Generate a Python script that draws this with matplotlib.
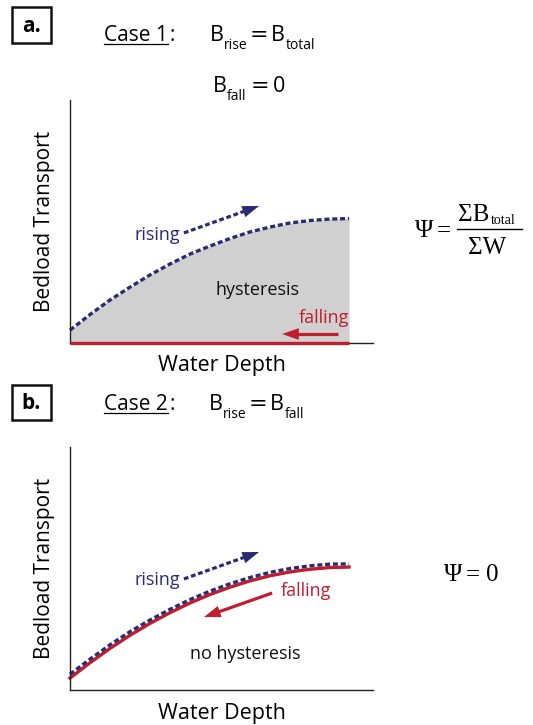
import matplotlib
matplotlib.use("Agg")
import matplotlib.pyplot as plt
from matplotlib.patches import Rectangle
from matplotlib.lines import Line2D

W, H = 533, 725
plt.rcParams['font.family'] = ['Open Sans', 'DejaVu Sans']
plt.rcParams['mathtext.default'] = 'regular'

NAVY = '#2b2a72'
RED = '#be1e2d'
GREY = '#d0d0d0'
SERIF = ['Liberation Serif', 'DejaVu Serif']

# curve data (water depth vs bedload transport)
depth = [0, 0.66, 1.32, 1.98, 2.64, 3.30, 3.96, 4.62, 5.28, 5.94, 6.60, 7.26, 7.92, 8.58, 9.21]
rise_a = [0.53, 1.17, 1.77, 2.30, 2.80, 3.25, 3.66, 3.99, 4.30, 4.57, 4.77, 4.94, 5.04, 5.10, 5.12]
fall_a = [0] * len(depth)
fall_b = [0.49, 1.12, 1.71, 2.25, 2.74, 3.18, 3.58, 3.93, 4.23, 4.49, 4.70, 4.86, 4.97, 5.04, 5.06]
rise_b = [0.65, 1.27, 1.86, 2.40, 2.88, 3.32, 3.72, 4.07, 4.37, 4.63, 4.84, 5.00, 5.11, 5.18, 5.19]

fig = plt.figure(figsize=(W / 100, H / 100), dpi=100)


def fx(px):
    return px / W


def fy(py):
    return 1 - py / H


def piece(x, y, s, size, **kw):
    return fig.text(fx(x), fy(y), s, ha='left', va='baseline', fontsize=size, **kw)


def make_ax(left, top, right, bottom):
    ax = fig.add_axes([fx(left), fy(bottom), (right - left) / W, (bottom - top) / H])
    ax.set_xlim(0, 10)
    ax.set_ylim(0, 10)
    for s in ['top', 'right']:
        ax.spines[s].set_visible(False)
    for s in ['left', 'bottom']:
        ax.spines[s].set_linewidth(1.0)
        ax.spines[s].set_color('#222222')
    ax.set_xticks([])
    ax.set_yticks([])
    ax.set_xlabel('Water Depth', fontsize=15.5, labelpad=9)
    ax.set_ylabel('Bedload Transport', fontsize=15, labelpad=11)
    ax.patch.set_alpha(0)
    return ax


def arrow_head(ax, start, end, color):
    ax.annotate('', xy=end, xytext=(start[0] + (end[0] - start[0]) * 0.75,
                                    start[1] + (end[1] - start[1]) * 0.75),
                arrowprops=dict(arrowstyle='-|>,head_length=1.2,head_width=0.42',
                                color=color, lw=0.01, shrinkA=0, shrinkB=0))


def dashed_arrow(ax, start, end, color):
    ax.plot([start[0], end[0] - (end[0] - start[0]) * 0.15],
            [start[1], end[1] - (end[1] - start[1]) * 0.15],
            color=color, lw=2.3, dashes=(1.5, 0.85), dash_capstyle='butt')
    arrow_head(ax, start, end, color)


def solid_arrow(ax, start, end, color):
    ax.plot([start[0], end[0] - (end[0] - start[0]) * 0.15],
            [start[1], end[1] - (end[1] - start[1]) * 0.15],
            color=color, lw=2.3, solid_capstyle='butt')
    arrow_head(ax, start, end, color)


def heading(label, box_top, box_bot, y_base, case_text):
    fig.add_artist(Rectangle((fx(12), fy(box_bot)), 39 / W, (box_bot - box_top) / H,
                             transform=fig.transFigure, fill=False, lw=1.8,
                             edgecolor='#111111'))
    fig.text(fx(31.5), fy((box_top + box_bot) / 2 + 1), label, ha='center', va='center',
             fontsize=15, fontweight='bold')
    t = piece(104, y_base, case_text, 15)
    r = fig.canvas.get_renderer()
    bb = t.get_window_extent(renderer=r)
    fig.add_artist(Line2D([bb.x0 / W, bb.x1 / W], [fy(y_base + 2.5)] * 2,
                          transform=fig.transFigure, color='black', lw=0.9))
    fig.text(bb.x1 / W + 0.003, fy(y_base), ':', ha='left', va='baseline', fontsize=15)


EQ = ['DejaVu Sans']

# ---------- panel a ----------
heading('a.', 7, 43, 41, 'Case 1')
piece(210, 41, 'B', 15.5)
piece(224, 49, 'rise', 10)
piece(250, 41, '=', 16, family=EQ)
piece(271, 41, 'B', 15.5)
piece(286, 49, 'total', 10)

piece(213, 92, 'B', 15.5)
piece(227, 100, 'fall', 10)
piece(251, 92, '=', 16, family=EQ)
piece(273, 92, '0', 15.5)

ax1 = make_ax(70, 100, 373, 343)
ax1.fill_between(depth, fall_a, rise_a, color=GREY, lw=0)
ax1.plot(depth, rise_a, color=NAVY, lw=2.4, dashes=(1.5, 0.85), clip_on=False,
         dash_capstyle='butt')
ax1.plot(depth, fall_a, color=RED, lw=2.4, clip_on=False, zorder=5, solid_capstyle='butt')
dashed_arrow(ax1, (3.76, 4.53), (6.24, 5.64), NAVY)
solid_arrow(ax1, (8.84, 0.37), (7.00, 0.37), RED)
ax1.text(2.87, 4.44, 'rising', color=NAVY, fontsize=13, ha='center', va='center')
ax1.text(6.20, 2.18, 'hysteresis', color='#111111', fontsize=13, ha='center', va='center')
ax1.text(9.21, 1.03, 'falling', color=RED, fontsize=13, ha='right', va='center')

# Psi formula (manual fraction)
piece(415, 237, 'Ψ', 18, family=SERIF)
piece(437, 237, '=', 18, family=SERIF)
piece(458, 221, 'ΣB', 18, family=SERIF)
piece(491, 224, 'total', 10, family=SERIF)
fig.add_artist(Line2D([fx(457), fx(522)], [fy(229)] * 2, transform=fig.transFigure,
                      color='black', lw=1.0))
piece(468, 254, 'ΣW', 18, family=SERIF)

# ---------- panel b ----------
heading('b.', 385, 420, 410, 'Case 2')
piece(209, 410, 'B', 15.5)
piece(223, 418, 'rise', 10)
piece(249, 410, '=', 16, family=EQ)
piece(270, 410, 'B', 15.5)
piece(285, 418, 'fall', 10)

ax2 = make_ax(70, 447, 373, 690)
ax2.plot(depth, fall_b, color=RED, lw=2.4, clip_on=False)
ax2.plot(depth, rise_b, color=NAVY, lw=2.4, dashes=(1.5, 0.85), clip_on=False,
         dash_capstyle='butt')
dashed_arrow(ax2, (3.76, 4.57), (6.24, 5.68), NAVY)
solid_arrow(ax2, (6.67, 3.99), (4.42, 3.00), RED)
ax2.text(2.87, 4.53, 'rising', color=NAVY, fontsize=13, ha='center', va='center')
ax2.text(7.79, 4.07, 'falling', color=RED, fontsize=13, ha='center', va='center')
ax2.text(5.78, 1.48, 'no hysteresis', color='#111111', fontsize=13, ha='center', va='center')

piece(444, 581, 'Ψ', 18, family=SERIF)
piece(466, 581, '=', 18, family=SERIF)
piece(486, 581, '0', 18, family=SERIF)

fig.savefig('out.png', dpi=100)
